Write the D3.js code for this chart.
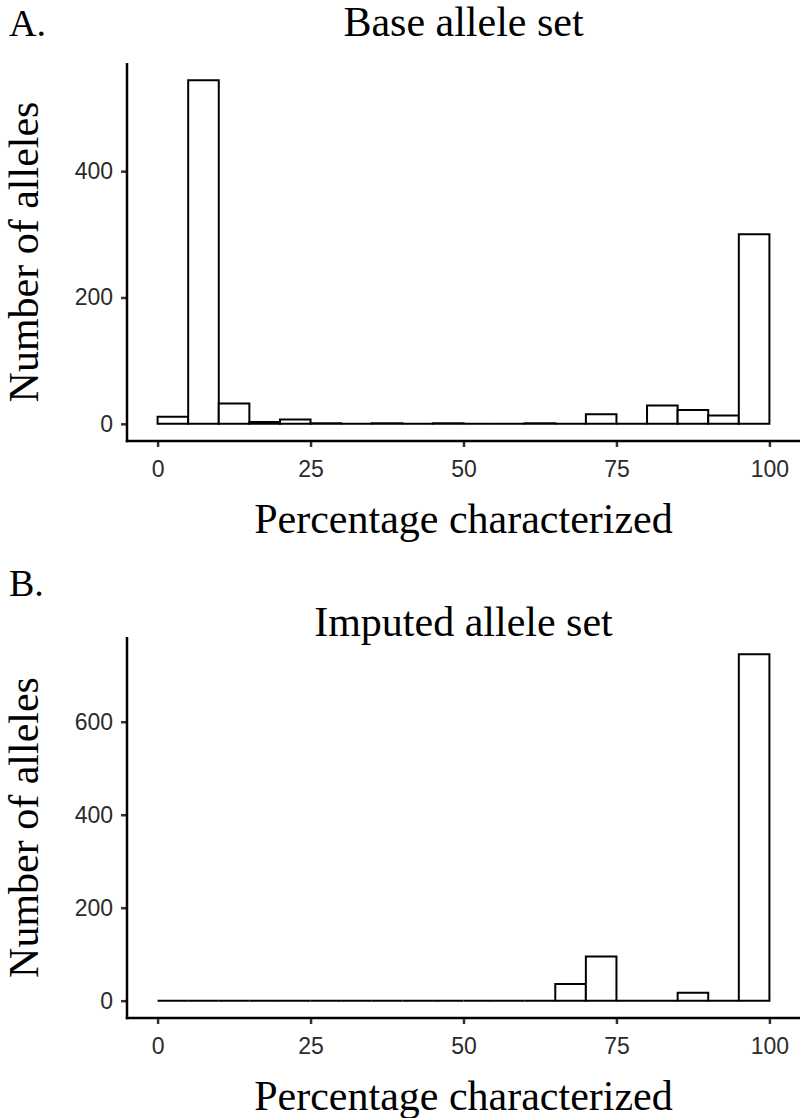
<!DOCTYPE html>
<html>
<head>
<meta charset="utf-8">
<script src="https://cdn.jsdelivr.net/npm/d3@7"></script>
<style>
  body { margin: 0; background: #fff; }
  svg { display: block; }
  .tick text { font-family: "Liberation Sans", Arial, sans-serif; font-size: 23px; fill: #2b2b2b; }
  .serif { font-family: "Liberation Serif", "Times New Roman", serif; fill: #000; font-size: 42px; }
  .letter { font-size: 38px; }
</style>
</head>
<body>
<svg id="fig" width="800" height="1118"></svg>
<script>
// histogram bins: 5% wide, 0..100
const binStarts = d3.range(0, 100, 5);
// counts, one per bin
const baseCounts    = [11, 544, 32, 3, 7, 1, 0, 1, 0, 1, 0, 0, 1, 0, 15, 0, 29, 22, 13, 300];
const imputedCounts = [0, 0, 0, 0, 0, 0, 0, 0, 0, 0, 0, 0, 0, 36, 95, 0, 0, 17, 0, 745];
const xTicks = [0, 25, 50, 75, 100];
const baseYTicks = [0, 200, 400];
const imputedYTicks = [0, 200, 400, 600];

const svg = d3.select("#fig");

// one histogram panel; top/bottom are the y-axis line ends
function panel(opts){
  const { counts, yTicks, top, bottom, letter, title, letterY, titleY, xTitleY } = opts;
  const left = 127, right = 800;
  const max = d3.max(counts);

  // ggplot-style 5% expansion on both scales
  const x = d3.scaleLinear().domain([-5, 105]).range([left, right]);
  const y = d3.scaleLinear().domain([-0.05 * max, 1.05 * max]).range([bottom, top]);

  const g = svg.append("g");

  // paths instead of rects so empty bins still show as a flat line
  g.selectAll("path.bar").data(binStarts).join("path")
      .attr("class", "bar")
      .attr("d", (d, i) => {
        const x0 = x(d), x1 = x(d + 5), y0 = y(0), y1 = y(counts[i]);
        return `M${x0},${y0}V${y1}H${x1}V${y0}Z`;
      })
      .attr("fill", "#fff")
      .attr("stroke", "#000")
      .attr("stroke-width", 2);

  const xAxis = g.append("g").attr("transform", `translate(0,${bottom})`)
      .call(d3.axisBottom(x).tickValues(xTicks).tickSize(6).tickPadding(14));
  const yAxis = g.append("g").attr("transform", `translate(${left},0)`)
      .call(d3.axisLeft(y).tickValues(yTicks).tickSize(6).tickPadding(8));

  [xAxis, yAxis].forEach(a => {
    a.select(".domain").remove();
    a.selectAll(".tick line").attr("stroke", "#333").attr("stroke-width", 2.5);
  });

  // axis lines drawn separately so they meet at the corner
  g.append("line").attr("x1", left).attr("x2", left).attr("y1", top).attr("y2", bottom + 1.25)
      .attr("stroke", "#000").attr("stroke-width", 2.5);
  g.append("line").attr("x1", left - 1.25).attr("x2", right).attr("y1", bottom).attr("y2", bottom)
      .attr("stroke", "#000").attr("stroke-width", 2.5);

  g.append("text").attr("class", "serif letter").attr("x", 9).attr("y", letterY).text(letter);
  g.append("text").attr("class", "serif").attr("x", x(50)).attr("y", titleY)
      .attr("text-anchor", "middle").text(title);
  g.append("text").attr("class", "serif").attr("x", x(50)).attr("y", xTitleY)
      .attr("text-anchor", "middle").text("Percentage characterized");
  g.append("text").attr("class", "serif")
      .attr("transform", `translate(38,${(top + bottom) / 2}) rotate(-90)`)
      .attr("text-anchor", "middle").text("Number of alleles");
}

panel({ counts: baseCounts, yTicks: baseYTicks, top: 63, bottom: 441,
        letter: "A.", title: "Base allele set", letterY: 36, titleY: 36, xTitleY: 533 });
panel({ counts: imputedCounts, yTicks: imputedYTicks, top: 637, bottom: 1018,
        letter: "B.", title: "Imputed allele set", letterY: 596, titleY: 636, xTitleY: 1110 });
</script>
</body>
</html>
